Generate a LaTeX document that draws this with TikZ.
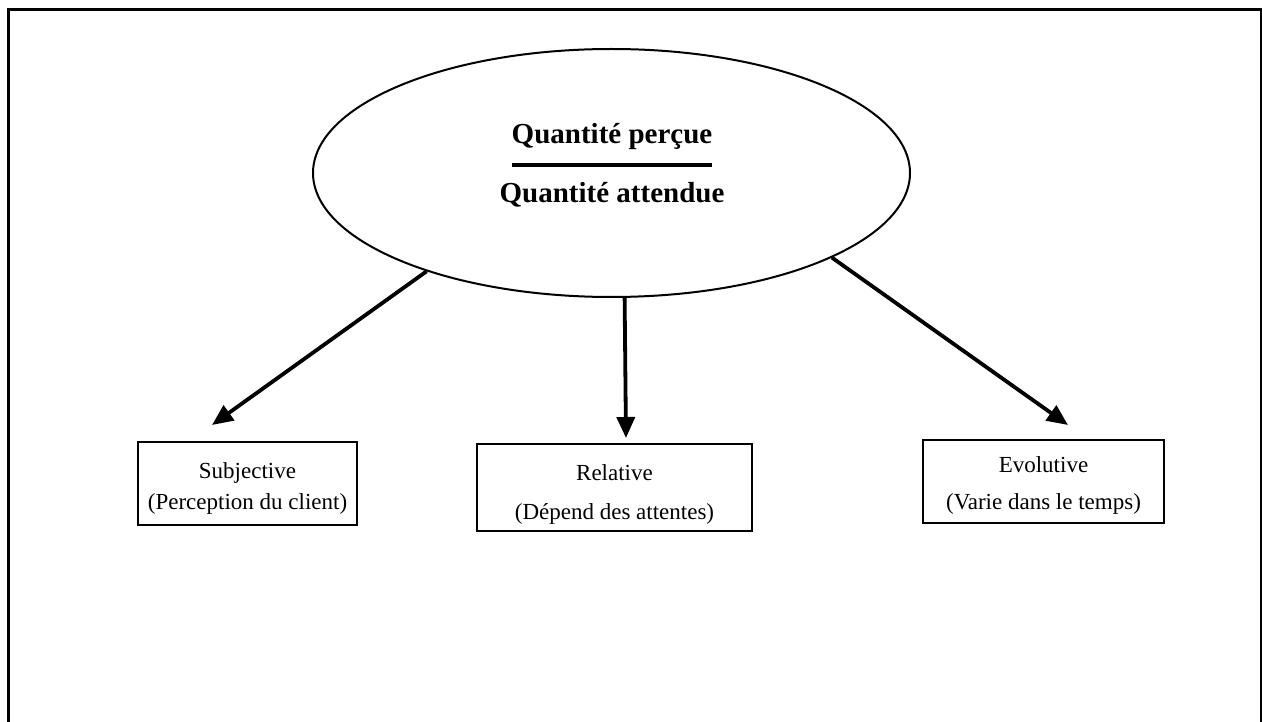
\documentclass[tikz,border=0pt]{standalone}
\usepackage{fontspec}
\setmainfont{Liberation Serif}
\usetikzlibrary{shapes.geometric,arrows.meta}
% two centred lines, moved down inside their box without changing its size
\newcommand{\boxlines}[4]{\raisebox{-#4}[\height][\depth]{\begin{tabular}{@{}c@{}}#1\\[#3]#2\end{tabular}}}
\begin{document}
\begin{tikzpicture}[x=1pt,y=-1pt,
  frame/.style={line width=3pt},
  bubble/.style={draw,ellipse,line width=2pt,minimum width=597pt,minimum height=248pt,inner sep=0pt},
  title/.style={font=\bfseries\fontsize{29}{33}\selectfont,inner sep=0pt},
  bar/.style={line width=4pt},
  box/.style={draw,line width=2.5pt,inner sep=0pt,align=center,font=\fontsize{23}{28}\selectfont},
  link/.style={line width=3.8pt,-{Triangle[length=21pt,width=18pt]}}]
\useasboundingbox (0,0) rectangle (1262,722);
% outer frame (open at the bottom of the page)
\draw[frame] (8,10) rectangle (1261,760);

% central ratio
\node[bubble] (q) at (611.5,173) {};
\node[title] (num) at (612,137) {Quantité perçue};
\node[title] (den) at (612,195) {Quantité attendue};
\draw[bar] (num.west |- 0,165) -- (num.east |- 0,165);

% the three properties
\node[box,minimum width=219pt,minimum height=83pt] (subj) at (247.5,483.5)
  {\boxlines{Subjective}{(Perception du client)}{3pt}{5pt}};
\node[box,minimum width=275pt,minimum height=87pt] (rel) at (614.5,487.5)
  {\boxlines{Relative}{(Dépend des attentes)}{11pt}{7pt}};
\node[box,minimum width=241pt,minimum height=83pt] (evo) at (1043.5,481.5)
  {\boxlines{Evolutive}{(Varie dans le temps)}{9pt}{4pt}};

% arrow tips just above the boxes
\coordinate (tl) at (212,425);
\coordinate (tm) at (626,438);
\coordinate (tr) at (1068,425);

\draw[link] (q.208.4) -- (tl);
\draw[link] (q.276.7) -- (tm);
\draw[link] (q.339.6) -- (tr);
\end{tikzpicture}
\end{document}
